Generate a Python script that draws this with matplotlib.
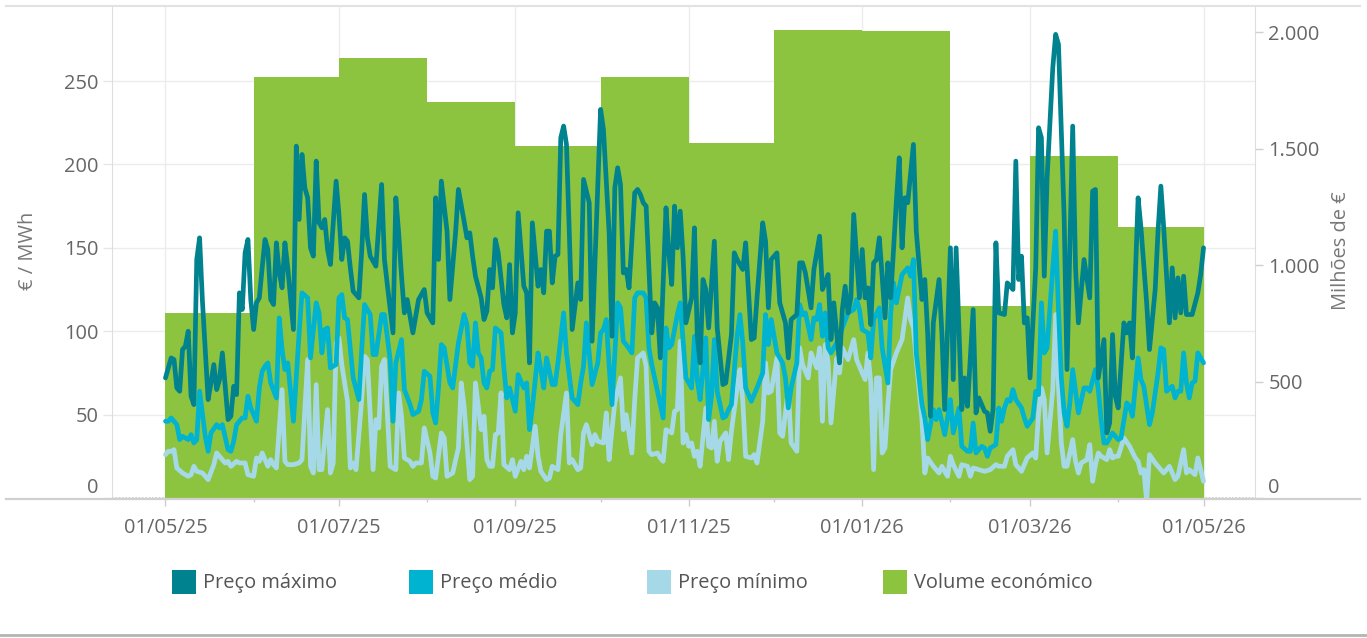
import numpy as np
import pandas as pd
import matplotlib
matplotlib.use("Agg")
import matplotlib.pyplot as plt
import matplotlib.dates as mdates
from matplotlib.lines import Line2D
from matplotlib.patches import Rectangle
from matplotlib.ticker import FuncFormatter, FixedLocator

plt.rcParams['font.family'] = ['Open Sans', 'DejaVu Sans']

# cores da série
COR_MAX = '#00838f'
COR_MED = '#00b3d1'
COR_MIN = '#a6d9e8'
COR_VOL = '#8cc43f'
COR_TXT = '#666666'

inicio = pd.Timestamp('2025-05-01')

# volume económico mensal (milhões de €)
meses = pd.date_range('2025-05-01', periods=12, freq='MS')
volume = [794, 1807, 1888, 1700, 1511, 1807, 1524, 2009, 2004, 824, 1468, 1163]

# preço máximo diário (dias desde 01/05/25, €/MWh)
dias_max = [0, 2, 3, 4, 5, 6, 7, 8, 9, 10, 11, 12, 13, 15, 16, 17, 18, 19, 20, 22, 23, 24, 25, 26, 27, 28, 29, 30,
            31, 32, 33, 34, 35, 36, 37, 38, 39, 40, 41, 42, 43, 45, 46, 47, 48, 49, 50, 51, 52, 53, 54, 55, 56, 57,
            58, 60, 61, 62, 63, 64, 65, 66, 68, 69, 70, 71, 72, 74, 76, 77, 78, 80, 81, 82, 83, 84, 85, 87, 89, 90,
            91, 92, 94, 95, 96, 97, 99, 100, 102, 103, 105, 106, 107, 108, 109, 111, 112, 113, 114, 115, 116, 117,
            119, 120, 121, 122, 123, 124, 126, 127, 128, 129, 131, 132, 133, 134, 135, 136, 137, 138, 139, 140, 141,
            142, 143, 145, 146, 147, 149, 150, 152, 153, 154, 156, 157, 158, 159, 160, 161, 162, 163, 165, 166, 167,
            168, 169, 171, 172, 173, 174, 176, 177, 178, 179, 180, 181, 182, 183, 185, 186, 187, 188, 189, 190, 191,
            193, 194, 196, 197, 199, 200, 201, 203, 204, 206, 207, 208, 210, 211, 212, 213, 215, 216, 218, 219, 220,
            222, 223, 224, 225, 227, 228, 230, 231, 233, 234, 235, 237, 238, 239, 240, 241, 242, 244, 245, 246, 247,
            248, 249, 250, 251, 252, 253, 254, 255, 257, 258, 259, 260, 261, 263, 264, 266, 267, 268, 269, 270, 272,
            273, 274, 276, 277, 278, 280, 281, 282, 284, 285, 286, 288, 289, 290, 291, 292, 293, 295, 296, 298, 299,
            300, 301, 302, 303, 304, 306, 307, 308, 309, 310, 312, 313, 314, 316, 317, 319, 320, 321, 323, 325, 326,
            327, 328, 330, 331, 332, 333, 334, 335, 337, 338, 339, 340, 342, 343, 345, 346, 348, 349, 350, 351, 353,
            354, 355, 356, 357, 358, 359, 361, 363, 364, 365]
preco_max = [72, 84, 83, 66, 64, 89, 91, 100, 61, 56, 143, 156, 118, 59, 69, 80, 65, 71, 87, 47, 49, 67, 62, 123, 113,
             147, 155, 119, 101, 117, 120, 138, 155, 149, 119, 116, 153, 135, 126, 153, 138, 101, 211, 167, 206, 186,
             180, 150, 145, 202, 165, 162, 167, 149, 140, 190, 170, 143, 156, 154, 138, 124, 120, 148, 182, 156, 145,
             139, 188, 143, 128, 99, 180, 159, 133, 111, 119, 99, 119, 122, 125, 111, 105, 180, 143, 190, 160, 119,
             159, 185, 166, 156, 159, 145, 133, 120, 107, 112, 137, 126, 155, 147, 116, 108, 140, 99, 111, 171, 127,
             123, 81, 165, 127, 137, 123, 160, 160, 129, 145, 146, 216, 223, 212, 159, 101, 129, 119, 191, 177, 94,
             186, 233, 221, 159, 97, 186, 198, 188, 135, 137, 126, 183, 185, 182, 177, 175, 99, 117, 114, 84, 174,
             147, 128, 175, 150, 172, 145, 105, 120, 162, 97, 81, 131, 125, 102, 154, 102, 68, 69, 98, 147, 143, 137,
             153, 95, 96, 120, 165, 154, 114, 143, 147, 117, 105, 84, 107, 110, 141, 141, 135, 114, 137, 157, 125,
             134, 95, 117, 81, 113, 127, 111, 120, 170, 120, 149, 120, 126, 104, 141, 143, 156, 133, 108, 141, 120,
             178, 204, 150, 180, 177, 212, 160, 119, 131, 99, 49, 105, 131, 99, 53, 150, 71, 150, 53, 72, 55, 113,
             51, 60, 52, 51, 40, 53, 153, 111, 110, 129, 125, 202, 131, 145, 105, 108, 72, 138, 222, 216, 133, 192,
             258, 278, 272, 168, 77, 223, 138, 105, 143, 120, 184, 185, 72, 95, 39, 45, 98, 61, 54, 105, 99, 105, 84,
             180, 162, 117, 89, 125, 160, 187, 162, 105, 138, 108, 132, 111, 133, 110, 110, 123, 134, 150]

# preço médio diário
dias_med = [0, 1, 2, 4, 5, 6, 8, 9, 10, 11, 12, 14, 15, 16, 18, 19, 20, 22, 23, 24, 25, 27, 28, 29, 30, 32, 33, 34,
            35, 36, 37, 39, 40, 41, 42, 43, 45, 47, 48, 50, 51, 53, 54, 55, 56, 57, 58, 60, 61, 62, 63, 64, 66, 68,
            69, 70, 72, 73, 74, 76, 77, 79, 80, 81, 83, 84, 86, 87, 89, 90, 91, 93, 94, 95, 96, 97, 98, 100, 101,
            103, 105, 106, 107, 108, 109, 110, 111, 112, 113, 114, 115, 116, 118, 119, 120, 121, 122, 123, 124, 126,
            127, 128, 129, 131, 132, 133, 134, 136, 137, 138, 140, 141, 143, 145, 146, 147, 148, 149, 150, 152, 153,
            154, 155, 156, 157, 159, 160, 161, 162, 164, 165, 166, 168, 169, 170, 171, 173, 174, 175, 176, 177, 178,
            180, 181, 183, 184, 185, 186, 187, 188, 190, 191, 192, 193, 194, 196, 197, 198, 199, 201, 202, 203, 204,
            206, 208, 210, 211, 212, 213, 215, 217, 218, 219, 220, 222, 223, 224, 225, 227, 228, 229, 230, 231, 232,
            233, 234, 236, 237, 238, 240, 242, 243, 244, 245, 247, 248, 249, 251, 252, 254, 255, 256, 257, 259, 261,
            262, 263, 264, 266, 267, 268, 270, 271, 272, 274, 275, 276, 277, 279, 280, 282, 283, 284, 285, 287, 288,
            289, 290, 292, 293, 294, 295, 296, 297, 298, 299, 301, 302, 303, 305, 306, 307, 308, 309, 310, 312, 313,
            314, 315, 316, 317, 318, 319, 320, 321, 323, 324, 325, 327, 328, 329, 330, 331, 333, 334, 335, 336, 338,
            339, 340, 342, 343, 344, 346, 347, 349, 350, 351, 352, 354, 355, 356, 357, 358, 359, 360, 361, 362, 363,
            365]
preco_med = [46, 46, 48, 44, 35, 37, 35, 38, 33, 35, 64, 37, 28, 39, 44, 42, 44, 29, 28, 34, 44, 48, 48, 61, 54, 46,
             66, 76, 79, 81, 69, 60, 108, 89, 77, 81, 46, 99, 123, 120, 84, 117, 111, 87, 101, 102, 78, 80, 120, 122,
             108, 107, 72, 59, 89, 116, 110, 86, 86, 110, 110, 83, 46, 81, 95, 65, 56, 50, 52, 59, 76, 73, 51, 45, 66,
             92, 90, 69, 66, 93, 110, 104, 81, 79, 105, 87, 84, 69, 66, 76, 77, 102, 99, 78, 60, 66, 59, 52, 74, 66,
             69, 41, 54, 87, 77, 66, 84, 68, 68, 81, 111, 87, 60, 56, 69, 79, 105, 87, 68, 81, 99, 101, 107, 79, 56,
             117, 114, 94, 92, 87, 120, 123, 123, 120, 90, 80, 64, 56, 48, 102, 90, 92, 110, 117, 72, 69, 66, 97, 71,
             59, 96, 47, 61, 95, 64, 48, 49, 53, 56, 97, 110, 93, 66, 58, 66, 75, 110, 92, 107, 87, 81, 72, 54, 66, 81,
             116, 110, 111, 95, 108, 107, 116, 97, 111, 90, 87, 93, 97, 102, 111, 113, 119, 113, 101, 99, 84, 107, 114,
             90, 69, 111, 129, 117, 134, 138, 133, 143, 87, 56, 48, 35, 53, 47, 53, 38, 48, 59, 39, 54, 31, 28, 28, 45,
             27, 31, 30, 25, 30, 32, 54, 46, 54, 59, 58, 65, 59, 54, 48, 43, 48, 64, 62, 117, 87, 90, 138, 160, 113,
             72, 51, 43, 57, 77, 64, 51, 66, 66, 64, 77, 65, 47, 33, 33, 39, 37, 35, 36, 57, 55, 49, 84, 71, 67, 44,
             51, 75, 90, 89, 64, 67, 60, 64, 64, 87, 69, 60, 69, 70, 87, 81]

# preço mínimo diário
dias_min = [0, 1, 2, 3, 4, 6, 8, 9, 10, 11, 13, 15, 17, 18, 20, 21, 22, 23, 25, 26, 28, 29, 31, 32, 33, 34, 36, 37,
            38, 39, 41, 42, 43, 45, 47, 48, 49, 50, 51, 52, 53, 54, 55, 57, 58, 59, 60, 61, 62, 64, 65, 66, 67, 69,
            70, 71, 73, 74, 75, 76, 77, 79, 80, 81, 82, 83, 84, 86, 87, 88, 90, 91, 93, 94, 95, 97, 98, 99, 101, 103,
            104, 105, 107, 108, 109, 111, 112, 113, 114, 115, 116, 117, 118, 119, 121, 122, 123, 125, 126, 127, 128,
            130, 131, 132, 134, 135, 136, 138, 139, 141, 142, 143, 145, 146, 147, 148, 150, 151, 152, 154, 155, 156,
            157, 158, 160, 161, 162, 164, 165, 166, 168, 169, 170, 171, 173, 174, 175, 176, 178, 179, 180, 181, 182,
            183, 184, 185, 186, 187, 188, 190, 191, 192, 193, 194, 195, 197, 198, 199, 201, 202, 203, 204, 206, 207,
            208, 210, 211, 212, 213, 215, 216, 217, 219, 220, 222, 223, 224, 226, 227, 229, 230, 231, 232, 233, 234,
            236, 237, 238, 240, 242, 243, 245, 246, 247, 248, 249, 250, 251, 252, 253, 254, 255, 257, 259, 261, 262,
            263, 264, 266, 267, 268, 270, 272, 273, 275, 276, 277, 279, 280, 282, 283, 284, 286, 288, 290, 292, 293,
            295, 296, 298, 299, 301, 303, 305, 306, 307, 308, 309, 310, 312, 313, 314, 315, 316, 317, 319, 320, 321,
            322, 324, 325, 326, 327, 328, 329, 331, 332, 333, 334, 335, 337, 339, 341, 342, 343, 344, 345, 346, 348,
            350, 351, 353, 355, 356, 358, 359, 360, 362, 363, 365]
preco_min = [26, 28, 28, 29, 18, 15, 13, 14, 19, 16, 15, 11, 20, 27, 23, 21, 22, 19, 22, 21, 21, 14, 13, 24, 22, 27,
             19, 23, 20, 18, 65, 22, 20, 20, 21, 23, 53, 83, 19, 15, 68, 17, 17, 53, 15, 21, 93, 96, 80, 58, 18, 21,
             17, 59, 85, 83, 17, 47, 42, 79, 83, 19, 18, 17, 63, 49, 24, 22, 19, 21, 21, 42, 27, 13, 12, 39, 36, 13,
             15, 30, 69, 55, 11, 13, 69, 41, 49, 23, 19, 19, 38, 39, 63, 20, 17, 23, 13, 22, 17, 25, 18, 43, 25, 16,
             11, 12, 19, 17, 38, 63, 21, 23, 17, 18, 39, 44, 32, 38, 34, 33, 51, 23, 41, 57, 72, 41, 50, 27, 59, 84,
             87, 79, 28, 26, 27, 24, 22, 41, 39, 52, 53, 94, 33, 38, 31, 33, 25, 28, 19, 54, 31, 30, 46, 22, 34, 39,
             23, 40, 66, 77, 58, 25, 24, 26, 21, 46, 81, 63, 64, 84, 39, 37, 65, 33, 28, 90, 80, 72, 87, 78, 90, 46,
             92, 81, 45, 84, 75, 90, 83, 95, 83, 75, 71, 87, 69, 17, 72, 72, 27, 30, 56, 77, 87, 95, 120, 107, 102, 83,
             47, 15, 24, 19, 15, 19, 13, 25, 20, 13, 20, 19, 13, 18, 17, 16, 17, 20, 19, 19, 25, 29, 20, 16, 24, 27,
             24, 51, 66, 59, 27, 65, 110, 67, 33, 19, 19, 35, 22, 15, 21, 23, 32, 10, 20, 27, 25, 23, 29, 24, 25, 25,
             36, 31, 24, 22, 15, 17, -2, 26, 21, 17, 15, 19, 11, 13, 29, 15, 17, 14, 24, 10]


def datas(dias):
    return [inicio + pd.Timedelta(days=d) for d in dias]


W, H = 1367, 638
fig = plt.figure(figsize=(W / 100, H / 100), dpi=100)
ax = fig.add_axes([112 / W, 1 - 498 / H, (1255 - 112) / W, (498 - 6) / H])
ax2 = ax.twinx()   # barras do volume (eixo da direita)
ax3 = ax.twinx()   # linhas de preço, por cima das barras

ax.set_xlim(inicio - pd.Timedelta(days=18.8), inicio + pd.Timedelta(days=383.1))
ax.set_ylim(0, 295)
ax2.set_ylim(0, 2112)
ax3.set_ylim(0, 295)
ax3.yaxis.set_visible(False)

# grelha e linha do zero por baixo das barras
ax.grid(axis='y', color='#ececec', lw=1)
ax.grid(axis='x', which='major', color='#ececec', lw=1)
ax.axhline(0, color='#c8c8c8', ls=(0, (1, 1)), lw=1.2)

# barras mensais
limites = pd.date_range('2025-05-01', periods=13, freq='MS')
x_meses = mdates.date2num(meses)
larguras = np.diff(mdates.date2num(limites))
ax2.bar(x_meses, volume, width=larguras, align='edge', color=COR_VOL, lw=0)

# linhas
for dias, vals, cor in [(dias_min, preco_min, COR_MIN),
                        (dias_med, preco_med, COR_MED),
                        (dias_max, preco_max, COR_MAX)]:
    ax3.plot(datas(dias), vals, color=cor, lw=3.4,
             solid_joinstyle='round', solid_capstyle='round')

# eixo x
ax.xaxis.set_major_locator(mdates.MonthLocator(bymonth=[1, 3, 5, 7, 9, 11]))
ax.xaxis.set_minor_locator(mdates.MonthLocator(bymonth=[2, 4, 6, 8, 10, 12]))
ax.xaxis.set_major_formatter(mdates.DateFormatter('%d/%m/%y'))
ax.tick_params(axis='x', which='major', length=6, width=1, color='#cccccc',
               labelsize=14.4, labelcolor=COR_TXT, pad=8.5)
ax.tick_params(axis='x', which='minor', length=3, width=1, color='#cccccc')

# eixo esquerdo
ax.yaxis.set_major_locator(FixedLocator([0, 50, 100, 150, 200, 250]))
ax.tick_params(axis='y', length=6.5, width=1, color='#e6e6e6',
               labelsize=14.4, labelcolor=COR_TXT, pad=3)

# eixo direito
ax2.yaxis.set_major_locator(FixedLocator([0, 500, 1000, 1500, 2000]))
ax2.yaxis.set_major_formatter(FuncFormatter(lambda v, p: f'{int(v):,}'.replace(',', '.')))
ax2.tick_params(axis='y', length=6, width=1, color='#d0d0d0',
                labelsize=14.4, labelcolor=COR_TXT, pad=3.6)

# o zero fica acima da linha de base
for eixo in (ax.yaxis, ax2.yaxis):
    eixo.get_major_ticks()[0].label1.set_verticalalignment('bottom')
    eixo.get_major_ticks()[0].label2.set_verticalalignment('bottom')

for a in (ax, ax2, ax3):
    for s in a.spines.values():
        s.set_visible(False)
ax.spines['left'].set_visible(True)
ax.spines['right'].set_visible(True)
ax.spines['left'].set_color('#dedede')
ax.spines['right'].set_color('#dedede')

# moldura horizontal a toda a largura
fig.add_artist(Line2D([6 / W, 1360 / W], [1 - 6 / H, 1 - 6 / H], color='#e2e2e2', lw=1.5))
fig.add_artist(Line2D([6 / W, 1360 / W], [1 - 498.5 / H, 1 - 498.5 / H], color='#d0d0d0', lw=1.6))
fig.add_artist(Line2D([0, 1], [1 - 635 / H, 1 - 635 / H], color='#b4b4b4', lw=2))

fig.text(28 / W, 1 - 251 / H, '€ / MWh', rotation=90, ha='center', va='center',
         color='#777777', fontsize=14.4)
fig.text(1341 / W, 1 - 251 / H, 'Milhões de €', rotation=90, ha='center', va='center',
         color='#777777', fontsize=14.4)

# legenda
legenda = [('Preço máximo', COR_MAX, 172), ('Preço médio', COR_MED, 409),
           ('Preço mínimo', COR_MIN, 647), ('Volume económico', COR_VOL, 883)]
for texto, cor, x in legenda:
    fig.add_artist(Rectangle((x / W, 1 - 594 / H), 24 / W, 24 / H,
                             transform=fig.transFigure, color=cor, lw=0))
    fig.text((x + 31) / W, 1 - 583 / H, texto, ha='left', va='center',
             color='#555555', fontsize=14.4)

fig.savefig('out.png', dpi=100)
